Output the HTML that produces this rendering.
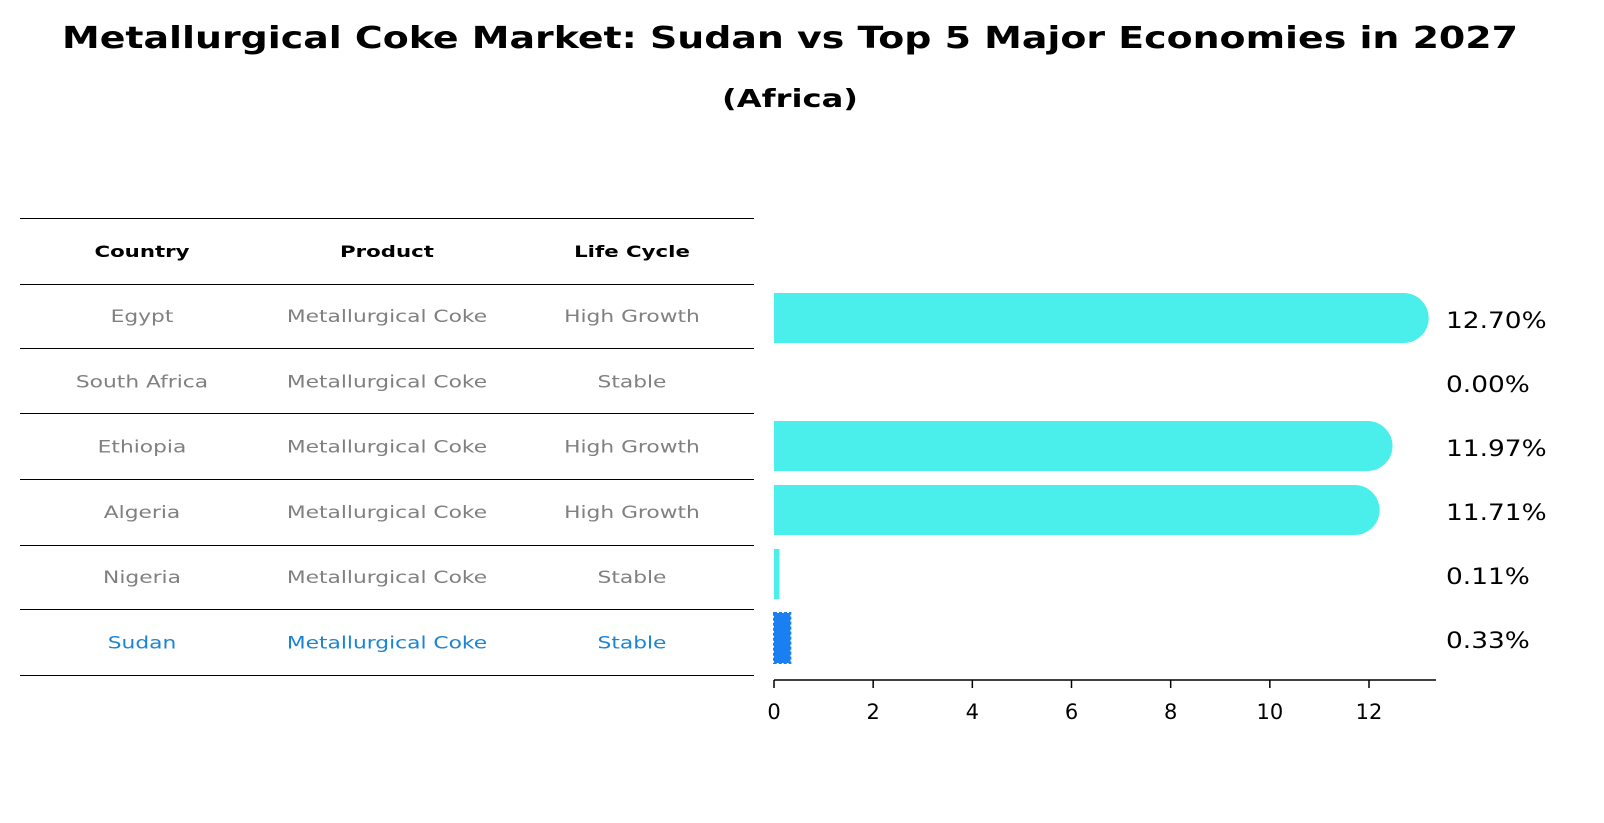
<!DOCTYPE html>
<html><head><meta charset="utf-8"><style>
body{margin:0;background:#fff;}
svg{display:block;font-family:"DejaVu Sans","Liberation Sans",sans-serif;}
</style></head><body>
<svg width="1604" height="823" viewBox="0 0 1604 823">
<text x="790" y="48" text-anchor="middle" font-size="30" font-weight="bold" textLength="1456" lengthAdjust="spacingAndGlyphs">Metallurgical Coke Market: Sudan vs Top 5 Major Economies in 2027</text>
<text x="790" y="107" text-anchor="middle" font-size="25" font-weight="bold" textLength="136" lengthAdjust="spacingAndGlyphs">(Africa)</text>
<g id="table"></g>
<g id="bars"></g>
</svg>
<script>
const countries=["Egypt","South Africa","Ethiopia","Algeria","Nigeria","Sudan"];
const products=["Metallurgical Coke","Metallurgical Coke","Metallurgical Coke","Metallurgical Coke","Metallurgical Coke","Metallurgical Coke"];
const lifeCycles=["High Growth","Stable","High Growth","High Growth","Stable","Stable"];
const values=[12.70,0.00,11.97,11.71,0.11,0.33];
const xTicks=[0,2,4,6,8,10,12];

const NS="http://www.w3.org/2000/svg";
function mk(tag,attrs,parent,text){const e=document.createElementNS(NS,tag);for(const k in attrs)e.setAttribute(k,attrs[k]);if(text!==undefined)e.textContent=text;parent.appendChild(e);return e;}
function fit(t,scale){const w=t.getComputedTextLength();t.setAttribute('textLength',w*scale);t.setAttribute('lengthAdjust','spacingAndGlyphs');}
const tbl=document.getElementById('table');
const lines=[218,284,348,413,479,545,609,675];
lines.forEach((y,i)=>{const l=mk('line',{x1:20,x2:754,y1:y+0.5,y2:y+0.5,stroke:'#000','stroke-width':1},tbl);

});
const colX=[142,387,632];
["Country","Product","Life Cycle"].forEach((h,i)=>{const t=mk('text',{x:colX[i],y:257,'text-anchor':'middle','font-size':16,'font-weight':'bold'},tbl,h);


fit(t,1.33);});
const rowY=i=>322+i*65.3;
countries.forEach((c,i)=>{const col=c==="Sudan"?"#1a85d6":"#808080";
[c,products[i],lifeCycles[i]].forEach((v,j)=>{const t=mk('text',{x:colX[j],y:rowY(i),'text-anchor':'middle','font-size':17,fill:col},tbl,v);


fit(t,1.28);});});

const g=document.getElementById('bars');
const x0=774,ppu=(1369-774)/12;
const xs=v=>x0+v*ppu;
const yc=i=>318+i*64;
const bh=50;
values.forEach((v,i)=>{const w=xs(v)-x0;const sud=countries[i]==="Sudan";
if(w>0){let r;
if(w>bh){r=mk('rect',{x:x0,y:yc(i)-bh/2,width:w+bh/2,height:bh,rx:bh/2,fill:'#4aeeea'},g);
mk('rect',{x:x0,y:yc(i)-bh/2,width:bh/2,height:bh,fill:'#4aeeea'},g);}
else r=mk('rect',{x:x0,y:yc(i)-bh/2,width:w,height:bh,fill:sud?'#1a7ff0':'#4aeeea',stroke:sud?'#1a7ff0':'none','stroke-dasharray':sud?'3,2':'','stroke-width':sud?2:0},g);

}
const t=mk('text',{x:1446,y:yc(i)+10,'font-size':22},g,v.toFixed(2)+'%');


fit(t,1.2);});
const ax=mk('line',{x1:774,x2:1436,y1:680,y2:680,stroke:'#000','stroke-width':1.5},g);


xTicks.forEach(t=>{mk('line',{x1:xs(t),x2:xs(t),y1:680,y2:688,stroke:'#000','stroke-width':1.5},g);
const l=mk('text',{x:xs(t),y:719,'text-anchor':'middle','font-size':21},g,String(t));

});
</script>
</body></html>
